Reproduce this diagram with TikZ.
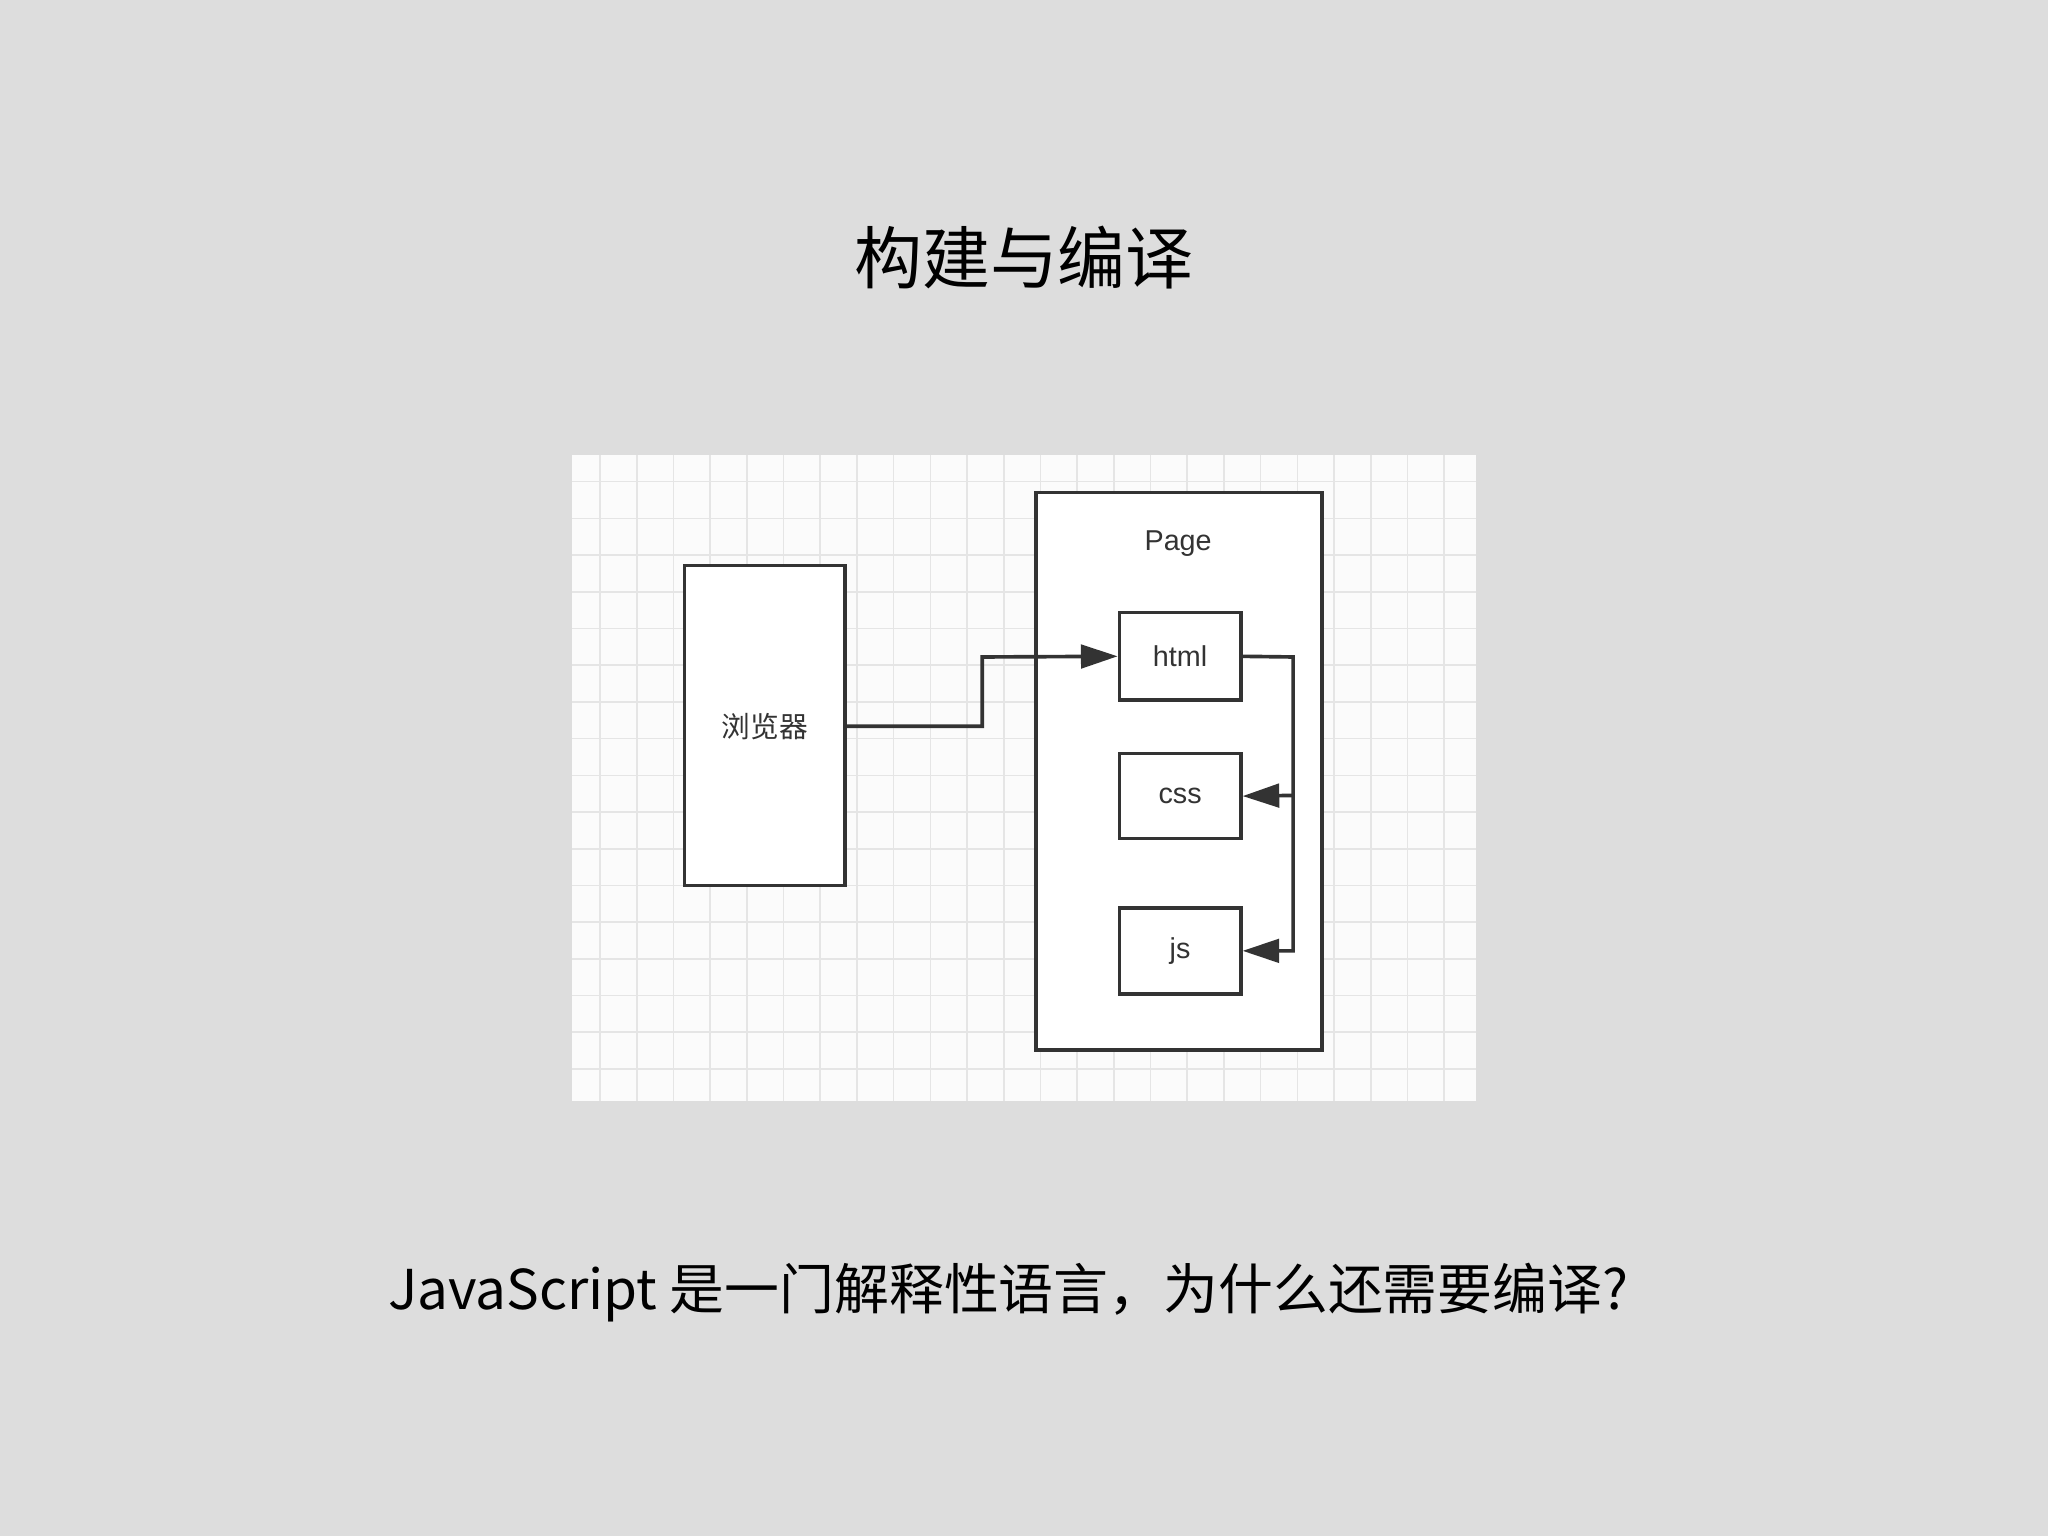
\documentclass[tikz,border=0pt]{standalone}
\usepackage{fontspec}
\newfontfamily\cjk{Noto Sans CJK SC}
\newfontfamily\lab{Liberation Sans}
\usetikzlibrary{arrows.meta}
\definecolor{bg}{HTML}{DDDDDD}
\definecolor{ln}{HTML}{333333}
\tikzset{box/.style={draw=ln,line width=1.4pt,fill=white,inner sep=0pt},
 conn/.style={draw=ln,line width=1.4pt},
 tip/.style={-{Triangle[length=14pt,width=9pt]}},
 lbl/.style={font=\lab\fontsize{11}{13}\selectfont,text=ln}}
\begin{document}
\begin{tikzpicture}[x=0.5pt,y=-0.5pt]
\fill[bg] (0,0) rectangle (1568,1176);
\useasboundingbox (0,0) rectangle (1568,1176);
\fill[white!97!gray] (438,348) rectangle (1130,843);
\foreach \i in {0,...,24}{\pgfmathsetmacro\xx{459.4+28.1*\i}
 \ifdim\xx pt<1130pt \draw[gray!20,line width=0.6pt] (\xx,348)--(\xx,843);\fi}
\foreach \i in {-1,...,17}{\pgfmathsetmacro\yy{368.8+28.1*\i}
 \ifdim\yy pt>348pt \ifdim\yy pt<843pt \draw[gray!20,line width=0.6pt] (438,\yy)--(1130,\yy);\fi\fi}
\node[font=\cjk\fontsize{26}{30}\selectfont] (title) at (784,197) {构建与编译};
\node[box,minimum width=61.5pt,minimum height=122.5pt] (br) at (585.5,555.5) {};
\node[font=\cjk\fontsize{11}{13}\selectfont,text=ln] (brl) at (585.5,556) {浏览器};
\node[box,minimum width=109.5pt,minimum height=213.5pt] (page) at (902.5,590.5) {};
\node[lbl] (pagel) at (902,416) {Page};
\node[box,lbl,minimum width=46.5pt,minimum height=33.5pt] (html) at (903.5,502.5) {html};
\node[box,lbl,minimum width=46.5pt,minimum height=32.5pt] (css) at (903.5,609.5) {css};
\node[box,lbl,minimum width=46.5pt,minimum height=33pt] (js) at (903.5,728) {js};
\coordinate (c1) at (752,556);
\coordinate (c2) at (752,503);
\coordinate (c3) at (990,503);
\coordinate (c4) at (990,609);
\coordinate (c5) at (990,728);
\draw[conn,tip] (br.east |- c1) -- (c1) -- (c2) -- (html.west);
\draw[conn,tip] (html.east) -- (c3) -- (c5) -- (js.east);
\draw[conn,tip] (c4) -- (css.east);
\node[font=\cjk\fontsize{21}{25}\selectfont] (q) at (772,990) {JavaScript 是一门解释性语言，为什么还需要编译?};
\end{tikzpicture}
\end{document}
